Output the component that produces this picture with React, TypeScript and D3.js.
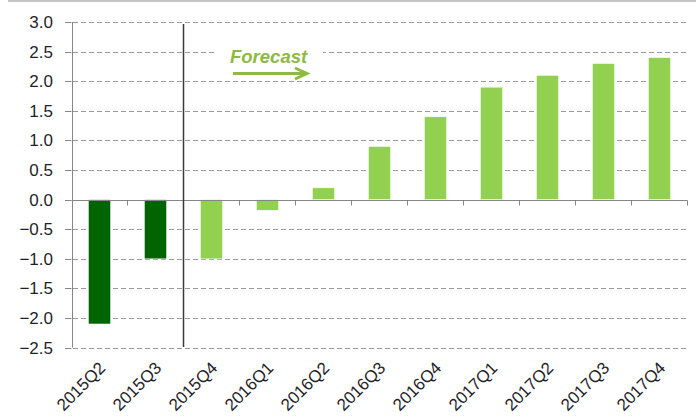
import React from 'react';
import * as d3 from 'd3';

const categories = ['2015Q2', '2015Q3', '2015Q4', '2016Q1', '2016Q2', '2016Q3', '2016Q4', '2017Q1', '2017Q2', '2017Q3', '2017Q4'];
const values = [-2.1, -1.0, -1.0, -0.18, 0.2, 0.9, 1.4, 1.9, 2.1, 2.3, 2.4];
const isForecast = [false, false, true, true, true, true, true, true, true, true, true];
const yTicks = [3.0, 2.5, 2.0, 1.5, 1.0, 0.5, 0.0, -0.5, -1.0, -1.5, -2.0, -2.5];
const forecastLabel = 'Forecast';

const W = 696;
const H = 417;
const FONT = '"Liberation Sans", Arial, sans-serif';
const DARK = '#006400';
const LIGHT = '#92D050';
const LABEL_GREEN = '#8DB944';

export default function App() {
  const x = d3.scaleBand<string>().domain(categories).range([71.5, 687.5]).padding(0);
  const y = d3.scaleLinear().domain([-2.5, 3]).range([347.7, 22]);
  const bw = x.bandwidth() * 0.4;
  const left = x.range()[0];
  const right = x.range()[1];
  const y0 = Math.round(y(0)) + 0.5;
  const sepX = Math.round(x(categories[2]) as number) - 0.5;

  return (
    <svg width={W} height={H} style={{ position: 'absolute', left: 0, top: 0, background: '#fff' }} fontFamily={FONT}>
      <rect x={0} y={0} width={W} height={H} fill="#fff" />
      <line x1={8} x2={W} y1={1} y2={1} stroke="#c4c4c4" strokeWidth={2} />
      {/* gridlines */}
      {yTicks.filter(t => t !== 0).map(t => {
        const yy = Math.round(y(t)) + 0.5;
        return <line key={'g' + t} x1={65} x2={right} y1={yy} y2={yy} stroke="#9a9a9a" strokeWidth={1} strokeDasharray="5,3" />;
      })}
      {/* forecast label box */}
      <rect x={217} y={42} width={106} height={22} fill="#fff" />
      {/* bars */}
      {categories.map((c, i) => {
        const cx = (x(c) as number) + x.bandwidth() / 2;
        const v = values[i];
        const top = y(Math.max(0, v));
        const bot = y(Math.min(0, v));
        return (
          <rect key={c} x={cx - bw / 2} y={top} width={bw} height={bot - top}
            fill={isForecast[i] ? LIGHT : DARK} stroke="#ffffff" strokeWidth={0.6} />
        );
      })}
      {/* y axis */}
      <line x1={Math.round(left) + 0.5} x2={Math.round(left) + 0.5} y1={y(3)} y2={y(-2.5)} stroke="#868686" strokeWidth={1} />
      {yTicks.map(t => {
        const yy = Math.round(y(t)) + 0.5;
        return (
          <g key={'t' + t}>
            <line x1={65} x2={left} y1={yy} y2={yy} stroke="#868686" strokeWidth={1} />
            <text x={53} y={yy} dy="0.35em" textAnchor="end" fontSize={17} fill="#1f1f2a">{d3.format('.1f')(t)}</text>
          </g>
        );
      })}
      {/* zero axis */}
      <line x1={left} x2={right} y1={y0} y2={y0} stroke="#868686" strokeWidth={1} />
      {categories.map((c, i) => {
        const bx = Math.round((x(c) as number) + x.bandwidth()) - 0.5;
        return <line key={'xt' + c} x1={bx} x2={bx} y1={y0} y2={y0 + 5} stroke="#868686" strokeWidth={1} />;
      })}
      {/* separator */}
      <line x1={sepX} x2={sepX} y1={24} y2={347} stroke="#3a3a3a" strokeWidth={1.5} />
      {/* x labels */}
      {categories.map(c => {
        const cx = (x(c) as number) + x.bandwidth() / 2;
        return (
          <text key={'xl' + c} transform={`translate(${cx + 7},${369}) rotate(-45)`} textAnchor="end" fontSize={17} fill="#1f1f2a">{c}</text>
        );
      })}
      {/* forecast annotation */}
      <text x={230} y={63} fontSize={18.5} fontWeight="bold" fontStyle="italic" fill={LABEL_GREEN}>{forecastLabel}</text>
      <line x1={233} x2={306} y1={73.5} y2={73.5} stroke={LABEL_GREEN} strokeWidth={3} />
      <polyline points="295,68 307,73.5 295,79" fill="none" stroke={LABEL_GREEN} strokeWidth={3} />
    </svg>
  );
}
